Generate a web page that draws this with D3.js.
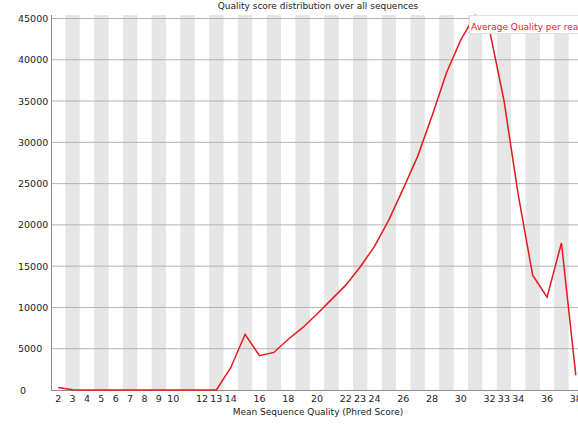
<!DOCTYPE html>
<html>
<head>
<meta charset="utf-8">
<script src="https://cdn.jsdelivr.net/npm/d3@7"></script>
<style>
  body { margin: 0; background: #fff; }
  svg { display: block; font-family: "DejaVu Sans", sans-serif; }
</style>
</head>
<body>
<svg width="578" height="425"></svg>
<script>
// phred score categories and read counts
var categories = [2,3,4,5,6,7,8,9,10,11,12,13,14,15,16,17,18,19,20,21,22,23,24,25,26,27,28,29,30,31,32,33,34,35,36,37,38];
var counts = [300,20,0,0,0,0,0,0,0,0,0,0,2700,6750,4150,4550,6150,7550,9200,10950,12700,14900,17400,20600,24400,28300,33200,38400,42400,45400,43600,35100,23600,13900,11250,17800,1800];
var xTickLabels = [2,3,4,5,6,7,8,9,10,12,13,14,16,18,20,22,23,24,26,28,30,32,33,34,36,38];
var yTicks = [0,5000,10000,15000,20000,25000,30000,35000,40000,45000];
var seriesName = "Average Quality per read";

var svg = d3.select("svg"),
    plotLeft = 51, plotRight = 583, plotTop = 15, plotBottom = 390;

var x = d3.scaleBand().domain(categories).range([plotLeft, plotRight]).padding(0),
    y = d3.scaleLinear().domain([0, 45000]).range([plotBottom, 18.5]);

// alternating grey bands
svg.selectAll(".stripe")
  .data(categories.filter(function(d) { return d % 2 === 1; }))
  .enter().append("rect")
    .attr("x", function(d) { return x(d); })
    .attr("y", plotTop)
    .attr("width", x.bandwidth())
    .attr("height", plotBottom - plotTop)
    .attr("fill", "#e6e6e6");

// horizontal grid
svg.selectAll(".grid")
  .data(yTicks.slice(1))
  .enter().append("line")
    .attr("x1", plotLeft).attr("x2", plotRight)
    .attr("y1", function(d) { return y(d); })
    .attr("y2", function(d) { return y(d); })
    .attr("stroke", "#b4b4b4")
    .attr("stroke-width", 1);

// axes lines
svg.append("line").attr("x1", plotLeft + 0.5).attr("x2", plotLeft + 0.5).attr("y1", plotTop).attr("y2", plotBottom)
  .attr("stroke", "#8c8c8c");
svg.append("line").attr("x1", plotLeft).attr("x2", plotRight).attr("y1", plotBottom + 0.5).attr("y2", plotBottom + 0.5)
  .attr("stroke", "#8c8c8c");

// y tick labels (left aligned, like fastqc does)
svg.selectAll(".ylab")
  .data(yTicks)
  .enter().append("text")
    .attr("x", function(d) { return d === 0 ? 20 : 18; })
    .attr("y", function(d) { return y(d) + 3.5; })
    .attr("text-anchor", "start")
    .attr("font-size", 9.5)
    .attr("fill", "#222")
    .text(function(d) { return d; });

// x tick labels
svg.selectAll(".xlab")
  .data(xTickLabels)
  .enter().append("text")
    .attr("x", function(d) { return x(d) + x.bandwidth() / 2; })
    .attr("y", 402)
    .attr("text-anchor", "middle")
    .attr("font-size", 9.5)
    .attr("fill", "#222")
    .text(function(d) { return d; });

// titles
svg.append("text").attr("x", 318).attr("y", 9).attr("text-anchor", "middle")
  .attr("font-size", 9).attr("fill", "#222")
  .text("Quality score distribution over all sequences");
svg.append("text").attr("x", 318).attr("y", 415).attr("text-anchor", "middle")
  .attr("font-size", 9).attr("fill", "#222")
  .text("Mean Sequence Quality (Phred Score)");

// the line
var line = d3.line()
  .x(function(d, i) { return x(categories[i]) + x.bandwidth() / 2; })
  .y(function(d) { return y(d); });

svg.append("path")
  .datum(counts)
  .attr("d", line)
  .attr("fill", "none")
  .attr("stroke", "#e41a1c")
  .attr("stroke-width", 1.5);

// legend
svg.append("rect").attr("x", 469.5).attr("y", 15.5).attr("width", 130).attr("height", 18)
  .attr("fill", "#fff").attr("stroke", "#e0e0e0");
svg.append("text").attr("x", 471).attr("y", 30)
  .attr("font-size", 9).attr("fill", "#e41a1c")
  .text(seriesName);
</script>
</body>
</html>
